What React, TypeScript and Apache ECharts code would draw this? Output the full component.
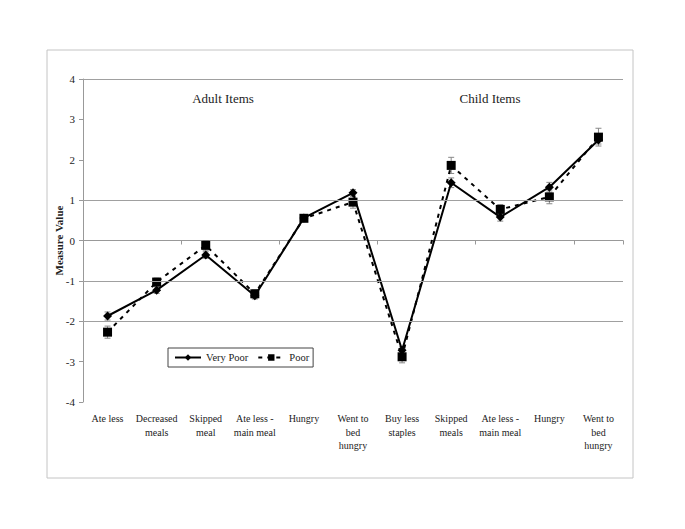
import React, { useEffect, useRef } from "react";
import * as echarts from "echarts";

const categories = [
  "Ate less",
  "Decreased\nmeals",
  "Skipped\nmeal",
  "Ate less -\nmain meal",
  "Hungry",
  "Went to\nbed\nhungry",
  "Buy less\nstaples",
  "Skipped\nmeals",
  "Ate less -\nmain meal",
  "Hungry",
  "Went to\nbed\nhungry",
];

const veryPoor = [-1.87, -1.23, -0.36, -1.37, 0.56, 1.18, -2.72, 1.43, 0.58, 1.32, 2.49];
const poor = [-2.27, -1.03, -0.12, -1.32, 0.55, 0.95, -2.88, 1.86, 0.77, 1.08, 2.56];
const errVeryPoor = [0.1, 0.08, 0.08, 0.08, 0.06, 0.08, 0.1, 0.12, 0.1, 0.12, 0.1];
const errPoor = [0.15, 0.1, 0.12, 0.1, 0.08, 0.15, 0.15, 0.2, 0.12, 0.17, 0.22];
const gridLineValues = [4, 1, -1, -2];
const groupTitles = ["Adult Items", "Child Items"];

const FONT = "'Liberation Serif', 'Times New Roman', serif";

function errData(vals: number[], errs: number[]) {
  return vals.map((v, i) => [i, v - errs[i], v + errs[i]]);
}

const renderErr = (params: any, api: any) => {
  const x = api.value(0);
  const lo = api.coord([x, api.value(1)]);
  const hi = api.coord([x, api.value(2)]);
  const cap = 3;
  const style = { stroke: "#888", lineWidth: 1 };
  return {
    type: "group",
    children: [
      { type: "line", shape: { x1: lo[0], y1: lo[1], x2: hi[0], y2: hi[1] }, style },
      { type: "line", shape: { x1: lo[0] - cap, y1: lo[1], x2: lo[0] + cap, y2: lo[1] }, style },
      { type: "line", shape: { x1: hi[0] - cap, y1: hi[1], x2: hi[0] + cap, y2: hi[1] }, style },
    ],
  };
};

export default function App() {
  const ref = useRef<HTMLDivElement>(null);
  useEffect(() => {
    if (!ref.current) return;
    const chart = echarts.init(ref.current, null, { renderer: "svg" });
    chart.setOption({
      animation: false,
      backgroundColor: "#fff",
      textStyle: { fontFamily: FONT },
      graphic: [
        {
          type: "rect",
          shape: { x: 47, y: 50, width: 586, height: 428 },
          style: { fill: "none", stroke: "#c4c4c4", lineWidth: 1 },
          silent: true,
        },
      ],
      title: [
        {
          text: groupTitles[0],
          left: 223,
          top: 92,
          padding: 0,
          textAlign: "center",
          textStyle: { fontFamily: FONT, fontSize: 13, fontWeight: "normal", color: "#222" },
        },
        {
          text: groupTitles[1],
          left: 490,
          top: 92,
          padding: 0,
          textAlign: "center",
          textStyle: { fontFamily: FONT, fontSize: 13, fontWeight: "normal", color: "#222" },
        },
      ],
      legend: {
        left: 168,
        top: 348,
        orient: "horizontal",
        itemWidth: 26,
        itemHeight: 8,
        itemGap: 9,
        padding: [4, 4, 4, 6],
        borderColor: "#444",
        borderWidth: 1,
        textStyle: { fontFamily: FONT, fontSize: 10.5, color: "#222" },
        data: ["Very Poor", "Poor"],
      },
      grid: { left: 83, top: 79, width: 540, height: 323 },
      xAxis: [
        {
          type: "category",
          data: categories,
          position: "bottom",
          axisLine: { show: false, onZero: false },
          axisTick: { show: false },
          axisLabel: {
            interval: 0,
            margin: 10,
            fontFamily: FONT,
            fontSize: 10,
            lineHeight: 13.5,
            color: "#222",
            align: "center",
          },
          splitLine: { show: false },
        },
        {
          type: "category",
          data: categories,
          position: "bottom",
          axisLine: { show: true, onZero: true, lineStyle: { color: "#999", width: 1 } },
          axisTick: { show: true, length: 4, lineStyle: { color: "#999" } },
          axisLabel: { show: false },
          splitLine: { show: false },
        },
      ],
      yAxis: {
        type: "value",
        min: -4,
        max: 4,
        interval: 1,
        name: "Measure Value",
        nameLocation: "middle",
        nameGap: 19,
        nameMoveOverlap: false,
        nameTextStyle: { fontFamily: FONT, fontSize: 11, fontWeight: "bold", color: "#222" },
        axisLine: { show: true, lineStyle: { color: "#999", width: 1 } },
        axisTick: { show: true, length: 4, lineStyle: { color: "#999" } },
        axisLabel: { fontFamily: FONT, fontSize: 11, color: "#222", margin: 8 },
        splitLine: { show: false },
      },
      series: [
        {
          type: "custom",
          name: "errVP",
          renderItem: renderErr,
          data: errData(veryPoor, errVeryPoor),
          encode: { x: 0, y: [1, 2] },
          z: 1,
          silent: true,
          markLine: {
            silent: true,
            symbol: "none",
            label: { show: false },
            lineStyle: { color: "#a0a0a0", width: 1, type: "solid" },
            data: gridLineValues.map((v) => ({ yAxis: v })),
          },
        },
        {
          type: "custom",
          name: "errP",
          renderItem: renderErr,
          data: errData(poor, errPoor),
          encode: { x: 0, y: [1, 2] },
          z: 1,
          silent: true,
        },
        {
          type: "line",
          name: "Very Poor",
          data: veryPoor,
          symbol: "diamond",
          symbolSize: 9,
          itemStyle: { color: "#000" },
          lineStyle: { color: "#000", width: 2, type: "solid" },
          z: 3,
        },
        {
          type: "line",
          name: "Poor",
          data: poor,
          symbol: "rect",
          symbolSize: 9,
          itemStyle: { color: "#000" },
          lineStyle: { color: "#000", width: 2, type: [4, 5] },
          z: 2,
        },
      ],
    });
    return () => chart.dispose();
  }, []);
  return (
    <div
      ref={ref}
      style={{ position: "fixed", left: 0, top: 0, width: 685, height: 529, background: "#fff" }}
    />
  );
}
